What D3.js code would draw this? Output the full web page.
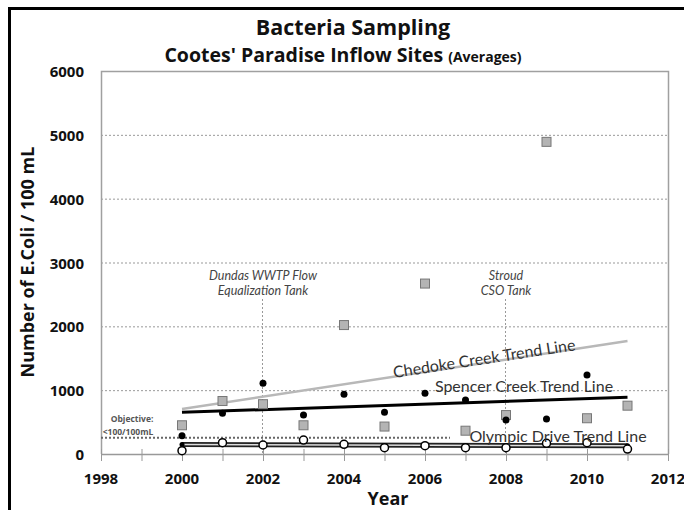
<!DOCTYPE html>
<html><head><meta charset="utf-8">
<script src="https://cdn.jsdelivr.net/npm/d3@7"></script>
<style>body{margin:0;background:#fff}svg{display:block}</style>
</head><body><svg id="c" width="684" height="510"></svg>
<script>
const years = [2000,2001,2002,2003,2004,2005,2006,2007,2008,2009,2010,2011];
const chedoke = [450,830,780,450,2020,430,2670,365,610,4890,560,757];
const spencer = [287,637,1107,611,935,653,951,846,533,548,1238,null];
const olympic = [52,177,141,219,151,99,130,99,99,167,177,78];
const trendYears = [2000,2011];
const chedokeTrend = [705,1770];
const spencerTrend = [653,888];
const olympicTrend = [150,128];
const objective = 255;
const xTicks = [1998,2000,2002,2004,2006,2008,2010,2012];
const yTicks = [0,1000,2000,3000,4000,5000,6000];
const events = [{year:2002,lines:["Dundas WWTP Flow","Equalization Tank"]},{year:2008,lines:["Stroud","CSO Tank"]}];

const FB = "'Open Sans', sans-serif";
const F = "Lato, sans-serif";
const svg = d3.select("#c");
const L=101,R=668,T=71,B=454;
const x = d3.scaleLinear().domain([1998,2012]).range([L,R]);
const y = d3.scaleLinear().domain([0,6000]).range([B,T]);

// frame
svg.append("line").attr("x1",8).attr("x2",684).attr("y1",8.5).attr("y2",8.5).attr("stroke","#000").attr("stroke-width",3);
svg.append("line").attr("x1",9.5).attr("x2",9.5).attr("y1",7).attr("y2",510).attr("stroke","#000").attr("stroke-width",3);

// titles
svg.append("text").attr("x",353).attr("y",35).attr("text-anchor","middle").attr("font-family",FB).attr("font-weight","bold").attr("font-size",21.5).attr("fill","#111").text("Bacteria Sampling");
const st = svg.append("text").attr("x",343).attr("y",62).attr("text-anchor","middle").attr("font-family",FB).attr("font-weight","bold").attr("font-size",19.5).attr("fill","#111");
st.append("tspan").text("Cootes' Paradise Inflow Sites ");
st.append("tspan").attr("font-size",14).text("(Averages)");

// grid
svg.append("g").selectAll("line").data(yTicks.filter(d=>d>0&&d<6000)).join("line")
  .attr("x1",L).attr("x2",R).attr("y1",d=>y(d)+0.5).attr("y2",d=>y(d)+0.5)
  .attr("stroke","#999").attr("stroke-width",1).attr("stroke-dasharray","2,2");
// plot border
svg.append("path").attr("d",`M${L+0.5},${B}V${T+0.5}H${R+0.5}V${B}`).attr("fill","none").attr("stroke","#a0a0a0").attr("stroke-width",1.5);

// x axis
const xa = svg.append("g").attr("transform",`translate(0,${B})`)
  .call(d3.axisBottom(x).tickValues(d3.range(1998,2013)).tickFormat("").tickSize(7).tickSizeOuter(0));
xa.select(".domain").attr("stroke","#999").attr("stroke-width",1.5);
xa.selectAll(".tick line").attr("stroke","#999").attr("y1",-5);
svg.append("g").selectAll("text").data(xTicks).join("text")
  .attr("x",d=>x(d)).attr("y",484).attr("text-anchor","middle").attr("font-family",FB).attr("font-weight","bold").attr("font-size",15).attr("fill","#111").text(d=>d);
svg.append("g").selectAll("text").data(yTicks).join("text")
  .attr("x",84).attr("y",d=>y(d)+6).attr("text-anchor","end").attr("font-family",FB).attr("font-weight","bold").attr("font-size",15).attr("fill","#111").text(d=>d);
svg.append("text").attr("x",388).attr("y",505).attr("text-anchor","middle").attr("font-family",FB).attr("font-weight","bold").attr("font-size",18).attr("fill","#111").text("Year");
svg.append("text").attr("transform","translate(34,262) rotate(-90)").attr("text-anchor","middle").attr("font-family",FB).attr("font-weight","bold").attr("font-size",18).attr("fill","#111").text("Number of E.Coli / 100 mL");

// event lines
events.forEach(e=>{
  svg.append("line").attr("x1",x(e.year)-0.5).attr("x2",x(e.year)-0.5).attr("y1",299).attr("y2",B).attr("stroke","#999").attr("stroke-dasharray","2,2");
  e.lines.forEach((t,i)=>svg.append("text").attr("x",x(e.year)).attr("y",280+i*15).attr("text-anchor","middle").attr("font-family",F).attr("font-style","italic").attr("font-size",12.5).attr("fill","#444").text(t));
});

// objective
svg.append("line").attr("x1",L).attr("x2",450).attr("y1",y(objective)).attr("y2",y(objective)).attr("stroke","#666").attr("stroke-width",2).attr("stroke-dasharray","2,2");
svg.append("text").attr("x",132).attr("y",422).attr("text-anchor","middle").attr("font-family",FB).attr("font-weight","bold").attr("font-size",8.5).attr("fill","#555").text("Objective:");
svg.append("text").attr("x",128).attr("y",434.5).attr("text-anchor","middle").attr("font-family",FB).attr("font-weight","bold").attr("font-size",8.5).attr("fill","#555").text("<100/100mL");

// trend lines
const tl = d3.line().x((d,i)=>x(trendYears[i])).y(d=>y(d));
svg.append("path").attr("d",tl(chedokeTrend)).attr("stroke","#b8b8b8").attr("stroke-width",2.5).attr("fill","none");
svg.append("path").attr("d",tl(spencerTrend)).attr("stroke","#000").attr("stroke-width",3).attr("fill","none");
svg.append("path").attr("d",tl(olympicTrend)).attr("stroke","#222").attr("stroke-width",5).attr("fill","none");
svg.append("path").attr("d",tl(olympicTrend)).attr("stroke","#ddd").attr("stroke-width",1.5).attr("fill","none");
svg.append("g").selectAll("circle").data(olympicTrend).join("circle").attr("cx",(d,i)=>x(trendYears[i])).attr("cy",d=>y(d)).attr("r",2.5).attr("fill","#000");

// trend labels
const ang = Math.atan2(y(chedokeTrend[1])-y(chedokeTrend[0]), x(2011)-x(2000))*180/Math.PI;
svg.append("text").attr("transform",`translate(485,364) rotate(${ang})`).attr("text-anchor","middle").attr("font-family",F).attr("font-size",16).attr("fill","#333").text("Chedoke Creek Trend Line");
svg.append("text").attr("x",524).attr("y",392).attr("text-anchor","middle").attr("font-family",F).attr("font-size",16).attr("fill","#333").text("Spencer Creek Trend Line");

// markers
const pts = (arr)=>years.map((yr,i)=>({yr,v:arr[i]})).filter(d=>d.v!=null);
svg.append("g").selectAll("rect").data(pts(chedoke)).join("rect")
  .attr("x",d=>x(d.yr)-4.5).attr("y",d=>y(d.v)-4.5).attr("width",9).attr("height",9)
  .attr("fill","#b4b4b4").attr("stroke","#777").attr("stroke-width",1);
svg.append("g").selectAll("circle").data(pts(spencer)).join("circle")
  .attr("cx",d=>x(d.yr)).attr("cy",d=>y(d.v)).attr("r",3.5).attr("fill","#000");
svg.append("g").selectAll("circle").data(pts(olympic)).join("circle")
  .attr("cx",d=>x(d.yr)).attr("cy",d=>y(d.v)).attr("r",4).attr("fill","#fff").attr("stroke","#000").attr("stroke-width",1.5);

svg.append("text").attr("x",558).attr("y",442).attr("text-anchor","middle").attr("font-family",F).attr("font-size",16).attr("fill","#333").text("Olympic Drive Trend Line");
</script></body></html>
